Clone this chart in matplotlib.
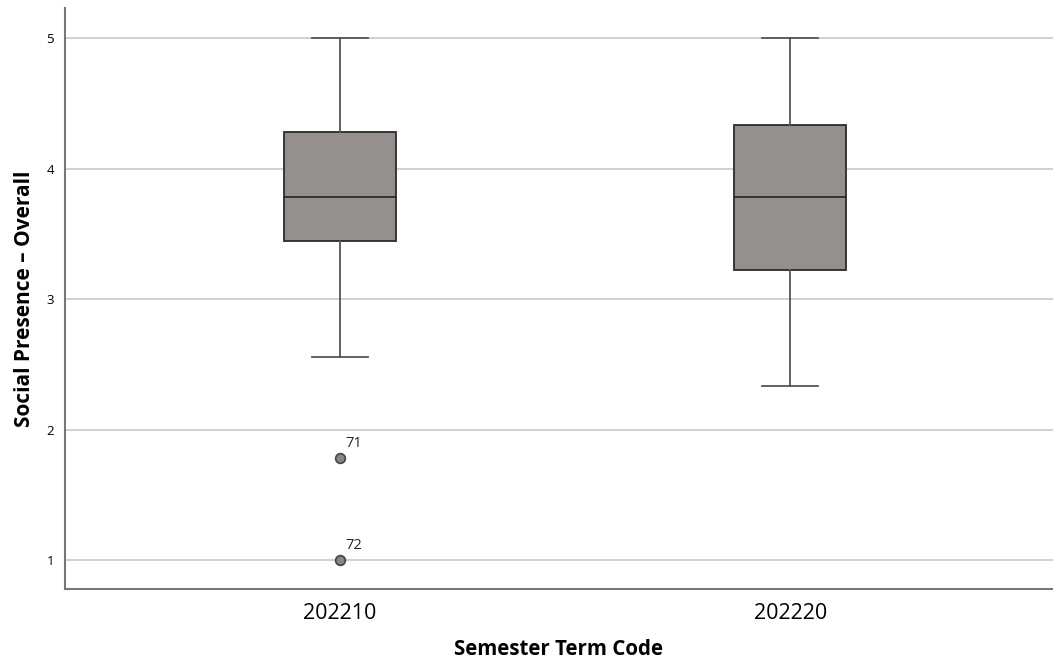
import matplotlib.pyplot as plt

# box plot summaries
terms = ["202210", "202220"]
q1 = [3.444, 3.222]
median = [3.778, 3.778]
q3 = [4.278, 4.333]
whisker_low = [2.556, 2.333]
whisker_high = [5.0, 5.0]
outliers = [[1.778, 1.0], []]
outlier_ids = [["71", "72"], []]

plt.rcParams['font.family'] = ['Open Sans', 'DejaVu Sans']

fig = plt.figure(figsize=(10.53, 6.64), dpi=100)
ax = fig.add_axes([65 / 1053, 75 / 664, 1 - 65 / 1053, 581 / 664])

stats = []
for i, t in enumerate(terms):
    stats.append({
        "label": t, "q1": q1[i], "med": median[i], "q3": q3[i],
        "whislo": whisker_low[i], "whishi": whisker_high[i],
        "fliers": outliers[i],
    })

positions = [1, 2]
ax.bxp(stats, positions=positions, widths=0.249, capwidths=0.126,
       patch_artist=True, showfliers=True,
       boxprops=dict(facecolor='#958f8d', edgecolor='#2b2b2b', linewidth=1.3),
       medianprops=dict(color='#2b2b2b', linewidth=1.3),
       whiskerprops=dict(color='#555555', linewidth=1.3),
       capprops=dict(color='#555555', linewidth=1.3),
       flierprops=dict(marker='o', markerfacecolor='#8a8584',
                       markeredgecolor='#444444', markersize=7,
                       markeredgewidth=1.2),
       zorder=3)

for i, pts in enumerate(outliers):
    for v, lab in zip(pts, outlier_ids[i]):
        ax.annotate(lab, (positions[i], v), xytext=(4, 8),
                    textcoords='offset points', fontsize=10.5, color='#222222')

ax.set_xlim(0.389, 2.584)
ax.set_ylim(0.778, 5.23)
ax.set_yticks([1, 2, 3, 4, 5])
ax.set_yticklabels(['1', '2', '3', '4', '5'], fontsize=9.5)
ax.set_xticks(positions)
ax.set_xticklabels(terms, fontsize=15.5)
ax.tick_params(axis='x', length=0, pad=10)
ax.tick_params(axis='y', length=0, pad=8)
ax.yaxis.grid(True, color='#c8c8c8', linewidth=1.2, zorder=0)
ax.set_axisbelow(True)

for s in ['top', 'right']:
    ax.spines[s].set_visible(False)
for s in ['left', 'bottom']:
    ax.spines[s].set_color('#777777')
    ax.spines[s].set_linewidth(1.5)

ax.set_xlabel('Semester Term Code', fontsize=14.8, fontweight='bold', labelpad=11)
ax.set_ylabel('Social Presence \u2013 Overall', fontsize=15, fontweight='bold', labelpad=8)

fig.savefig('out.png', dpi=100)
